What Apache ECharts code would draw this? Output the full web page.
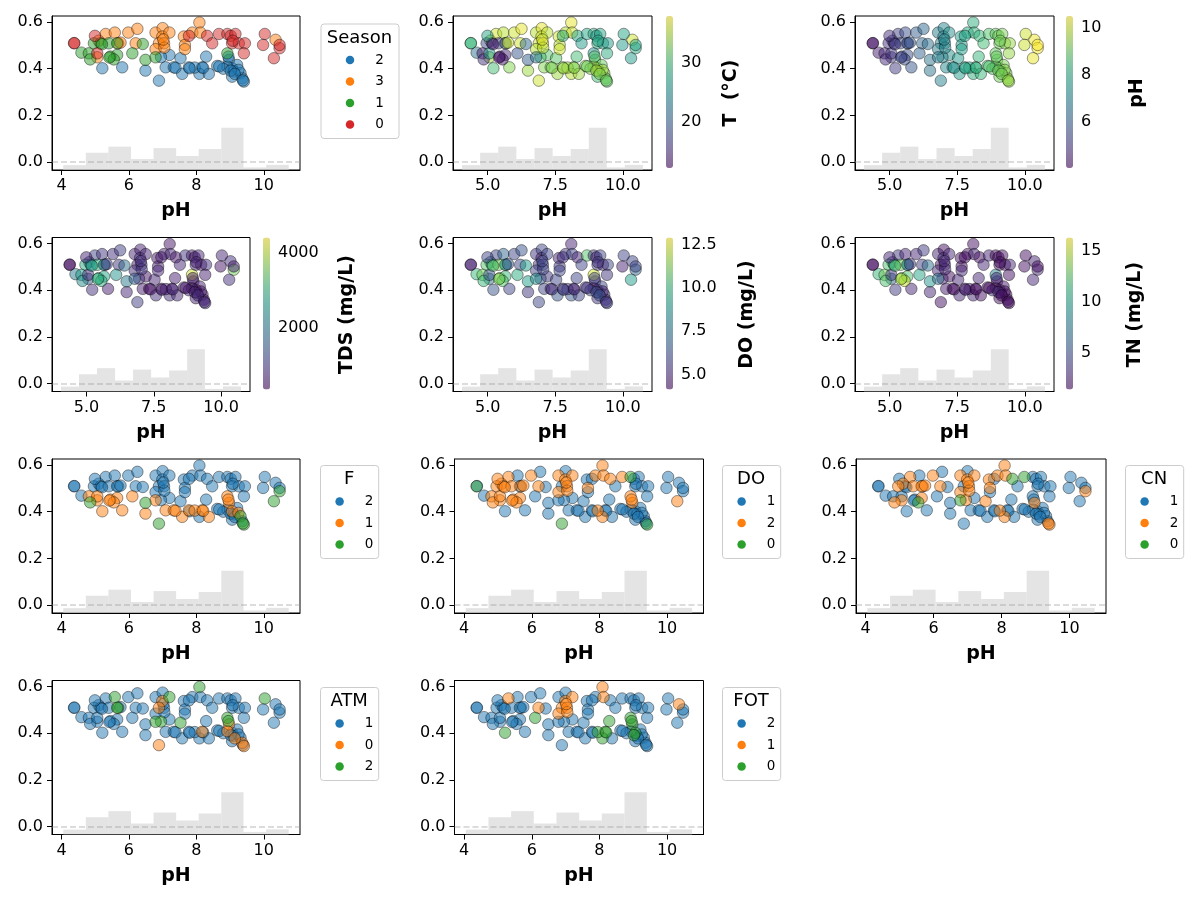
<!DOCTYPE html>
<html>
<head>
<meta charset="utf-8">
<script src="https://cdn.jsdelivr.net/npm/echarts@6/dist/echarts.min.js"></script>
<style>
  html, body { margin: 0; background: #fff; }
  #chart { width: 1200px; height: 900px; }
</style>
</head>
<body>
<div id="chart"></div>
<script>
// ---- data (one entry per sample) ----
const ph = [5.21,5.80,6.49,6.89,7.20,7.09,7.33,7.58,7.53,7.78,8.29,8.17,8.09,8.37,8.62,8.97,9.06,9.21,8.92,9.11,9.31,9.36,9.41,9.06,8.80,7.95,9.25,6.95,
  5.31,5.58,5.98,6.25,5.68,6.20,5.06,6.79,7.00,6.99,7.20,6.89,7.04,6.79,7.63,7.66,7.66,7.88,8.09,8.12,10.35,5.10,7.05,
  4.96,5.16,5.40,5.65,6.41,4.59,4.81,5.45,5.65,6.10,6.49,6.79,8.92,5.55,4.85,
  4.37,4.38,4.99,5.06,7.78,8.32,8.47,8.67,8.92,9.02,9.16,9.06,9.26,9.44,9.41,10.03,9.98,10.47,10.47,10.30,9.08,
  7.38,7.80,8.20,8.68,9.02,9.14,9.38,8.95,5.75,7.02,5.20,5.42];
const val = [0.402,0.406,0.392,0.349,0.459,0.406,0.406,0.378,0.445,0.406,0.452,0.406,0.378,0.378,0.412,0.438,0.402,0.416,0.409,0.388,0.381,0.359,0.345,0.366,0.400,0.405,0.395,0.450,
  0.549,0.555,0.555,0.571,0.509,0.509,0.449,0.555,0.574,0.538,0.555,0.509,0.509,0.484,0.538,0.502,0.484,0.555,0.598,0.555,0.524,0.520,0.490,
  0.509,0.509,0.509,0.509,0.506,0.469,0.466,0.452,0.459,0.466,0.438,0.449,0.466,0.440,0.440,
  0.509,0.510,0.541,0.466,0.541,0.541,0.509,0.549,0.549,0.541,0.549,0.509,0.509,0.509,0.466,0.549,0.502,0.488,0.502,0.445,0.520,
  0.404,0.402,0.404,0.410,0.392,0.378,0.350,0.452,0.512,0.525,0.505,0.448];
const season = [2,2,2,2,2,2,2,2,2,2,2,2,2,2,2,2,2,2,2,2,2,2,2,2,2,2,2,2,
  3,3,3,3,3,3,3,3,3,3,3,3,3,3,3,3,3,3,3,3,3,3,3,
  1,1,1,1,1,1,1,1,1,1,1,1,1,1,1,
  0,0,0,0,0,0,0,0,0,0,0,0,0,0,0,0,0,0,0,0,0,
  2,2,2,2,2,2,2,2,3,3,1,1];
const temp = [30,33,34,36,31,33,32,34,31,33,30,33,35,34,33,31,33,32,34,35,33,32,31,30,33,34,34,30,
  36,35,36,37,35,36,34,35,37,36,35,36,37,35,36,35,36,35,37,36,36,35,35,
  18,15,16,20,21,22,14,13,15,19,20,22,25,14,16,
  30,29,27,26,28,27,26,27,28,26,27,28,27,26,28,27,26,28,27,26,27,
  33,34,33,32,34,33,32,31,36,36,15,14];
const tds = [900,700,800,1100,600,700,500,900,800,600,700,600,900,800,700,600,500,700,600,800,700,600,900,700,800,700,600,900,
  1200,1000,900,1100,1300,1000,1500,800,700,900,800,700,1000,900,600,700,800,700,600,800,900,1100,1000,
  2800,2500,3000,2200,1800,2000,2600,3100,2700,2400,2000,1600,4100,2900,2300,
  600,500,800,900,700,600,800,1000,700,600,800,700,600,900,700,800,600,3500,700,900,800,
  600,700,800,600,700,900,800,700,1100,900,2600,2900];
const doMg = [6.5,6,5.5,6,5.5,6,5,6.5,6,5,6,5.5,6.5,6,5.5,5,5.5,6,5,6,5.5,5,6,5.5,6,5.5,5,6.5,
  6,7,6,6.5,7,6,7.5,5.5,6,5,6,5.5,6,6,5,5.5,6,5.5,5,6,6,7,6,
  10.5,10,11,9.5,9,10,11,11.5,10,9.5,9,8.5,12.3,10.5,10,
  5,5,6,6.5,5.5,5,6,10.5,5.5,5,6,5.5,5,6,5.5,6,5,7,6,9,5.5,
  5.5,6,5,5.5,6,6.5,5.5,6,6.5,6,10.5,11];
const tn = [4,3,3,2,2,2.5,2,3,3,2,3,2,3,2,2,2,2,2.5,2,3,2,2,2,2,3,2,2,3,
  4,3,3,4,5,4,6,3,2,3,3,2,3,3,2,2,3,2,2,3,3,4,3,
  12,10,13,9,7,11,13,14,12,10,9,7,8,15,12,
  2,2,3,4,2,2,3,3,2,2,2,2,2,3,2,2,2,3,2,3,2,
  2,3,2,2,3,2,2,3,4,3,12,14];
const fCls = [1,1,1,0,2,1,1,1,2,1,2,1,2,1,2,1,1,2,2,2,0,2,0,2,2,1,1,2,
  2,2,2,2,2,2,1,2,2,2,2,2,2,2,2,2,2,2,2,2,2,2,2,
  2,2,2,2,2,2,1,1,1,1,0,1,1,1,0,
  2,2,2,1,2,2,2,2,2,2,2,2,2,2,2,2,2,0,2,0,2,
  1,2,1,2,2,2,0,1,2,2,2,1];
const doCls = [1,1,1,0,1,1,1,1,1,1,1,1,2,1,1,2,1,1,1,1,1,1,0,1,1,2,1,1,
  2,1,2,1,2,2,2,2,1,2,2,1,2,2,1,2,1,2,2,2,1,2,2,
  2,2,2,1,1,1,2,2,2,1,1,1,2,2,2,
  0,1,2,2,1,2,1,2,0,1,1,1,1,1,1,1,1,1,1,2,1,
  1,1,1,1,1,1,1,2,2,2,2,2];
const cnCls = [1,1,1,1,1,1,1,1,2,1,1,1,2,1,1,2,1,1,1,1,1,1,2,1,1,2,1,2,
  2,1,2,1,2,2,2,2,1,2,2,1,2,2,2,2,1,2,2,2,1,2,2,
  2,1,2,2,1,1,1,1,2,1,1,0,1,0,2,
  1,1,1,1,1,0,1,0,1,1,1,1,1,1,1,1,1,2,1,1,1,
  1,1,1,1,1,1,2,1,2,2,1,1];
const atmCls = [1,1,1,0,1,1,1,1,2,1,1,0,1,1,1,0,1,1,0,1,1,0,0,1,1,1,1,2,
  1,2,1,1,2,1,1,1,1,0,2,0,1,1,1,1,1,1,2,1,1,1,1,
  1,1,1,2,1,1,1,1,1,1,1,2,2,1,1,
  1,1,1,1,1,1,1,1,1,1,1,1,1,1,1,2,1,1,1,1,1,
  1,1,1,1,1,0,1,2,1,1,1,1];
const fotCls = [0,2,2,2,2,2,2,2,2,2,0,0,0,2,2,0,0,2,2,2,2,2,2,2,2,0,2,2,
  1,2,2,2,2,1,2,2,2,1,1,1,1,1,2,2,2,2,1,1,1,2,1,
  2,2,2,2,2,2,2,2,2,0,2,2,0,2,2,
  2,2,2,2,2,2,2,2,2,2,2,2,2,2,2,2,2,2,2,2,2,
  2,2,0,2,0,2,2,0,2,1,2,2];

// pH histogram drawn under every panel
const histEdges = [4.05,4.72,5.39,6.06,6.73,7.40,8.07,8.74,9.40,10.07,10.74];
const histTops = [-0.013,0.040,0.066,0.013,0.060,0.026,0.056,0.147,-0.023,-0.012];

// ---- styling ----
const FONT = 'DejaVu Sans';
const X_MIN = 3.717, X_MAX = 11.075, Y_MIN = -0.034, Y_MAX = 0.626;
const H = 154;
const tab10 = ['#1f77b4', '#ff7f0e', '#2ca02c', '#d62728'];
const viridis = ['#440154','#482878','#3e4989','#31688e','#26828e','#1f9e89','#35b779','#6ece58','#b5de2b','#fde725'];
const viridisFaded = viridis.map(c => {
  const n = parseInt(c.slice(1), 16);
  return 'rgba(' + (n >> 16) + ',' + ((n >> 8) & 255) + ',' + (n & 255) + ',0.5)';
});

const panels = [
  {left: 52, top: 16, w: 248, xt: [4, 6, 8, 10], cat: season, title: 'Season', order: [2, 3, 1, 0], box: [320.5, 23.5, 78]},
  {left: 453, top: 16, w: 199, xt: [5, 7.5, 10], num: temp, range: [12.2, 37.9], ct: [20, 30], cbX: 666, label: 'T  (°C)', labelX: 731},
  {left: 855, top: 16, w: 199, xt: [5, 7.5, 10], num: ph, range: [4.05, 10.5], ct: [6, 8, 10], cbX: 1066, label: 'pH', labelX: 1137},
  {left: 52, top: 237.5, w: 198, xt: [5, 7.5, 10], num: tds, range: [357, 4410], ct: [2000, 4000], cbX: 263, label: 'TDS (mg/L)', labelX: 347},
  {left: 453, top: 237.5, w: 199, xt: [5, 7.5, 10], num: doMg, range: [4.15, 12.9], ct: [5, 7.5, 10, 12.5], cdec: 1, cbX: 666, label: 'DO (mg/L)', labelX: 747},
  {left: 855, top: 237.5, w: 199, xt: [5, 7.5, 10], num: tn, range: [1.36, 16.3], ct: [5, 10, 15], cbX: 1066, label: 'TN (mg/L)', labelX: 1135},
  {left: 52, top: 459, w: 248, xt: [4, 6, 8, 10], cat: fCls, title: 'F', order: [2, 1, 0], box: [320, 465, 58.2]},
  {left: 454.5, top: 459, w: 249, xt: [4, 6, 8, 10], cat: doCls, title: 'DO', order: [1, 2, 0], box: [722, 465, 58.2]},
  {left: 856, top: 459, w: 250, xt: [4, 6, 8, 10], cat: cnCls, title: 'CN', order: [1, 2, 0], box: [1125, 465, 58.2]},
  {left: 52, top: 680.5, w: 248, xt: [4, 6, 8, 10], cat: atmCls, title: 'ATM', order: [1, 0, 2], box: [320, 687, 58.2]},
  {left: 454.5, top: 680.5, w: 249, xt: [4, 6, 8, 10], cat: fotCls, title: 'FOT', order: [2, 1, 0], box: [722, 687, 58.2]}
];

const chart = echarts.init(document.getElementById('chart'));
const grids = [], xAxes = [], yAxes = [], series = [], visualMaps = [], legends = [], graphics = [];
const histData = histTops.map((t, i) => [histEdges[i], histEdges[i + 1], t]);
const tickStyle = {show: true, inside: false, length: 5, lineStyle: {color: '#000', width: 1}};

panels.forEach(p => {
  // each grid owns exactly one x and one y axis, so they share the index
  const k = grids.length;
  grids.push({left: p.left, top: p.top, width: p.w, height: H, show: true, borderColor: '#000', borderWidth: 1});
  const dec = p.xt.some(v => v % 1 !== 0) ? 1 : 0;
  xAxes.push({
    type: 'value', gridIndex: k, min: X_MIN, max: X_MAX,
    axisLine: {show: true, onZero: false, lineStyle: {color: '#000'}},
    splitLine: {show: false},
    axisTick: Object.assign({customValues: p.xt}, tickStyle),
    axisLabel: {customValues: p.xt, formatter: v => v.toFixed(dec), fontFamily: FONT, fontSize: 16, color: '#000', margin: 8},
    name: 'pH', nameLocation: 'middle', nameGap: 32,
    nameTextStyle: {fontFamily: FONT, fontSize: 19, fontWeight: 'bold', color: '#000'}
  });
  yAxes.push({
    type: 'value', gridIndex: k, min: Y_MIN, max: Y_MAX,
    axisLine: {show: true, onZero: false, lineStyle: {color: '#000'}},
    splitLine: {show: false},
    axisTick: Object.assign({customValues: [0, 0.2, 0.4, 0.6]}, tickStyle),
    axisLabel: {customValues: [0, 0.2, 0.4, 0.6], formatter: v => v.toFixed(1), fontFamily: FONT, fontSize: 16, color: '#000', margin: 9}
  });

  // grey pH histogram
  series.push({
    type: 'custom', xAxisIndex: k, yAxisIndex: k, z: 1, silent: true,
    encode: {x: [0, 1], y: 2},
    data: histData,
    renderItem: (params, api) => {
      const a = api.coord([api.value(0), api.value(2)]);
      const b = api.coord([api.value(1), Y_MIN]);
      return {type: 'rect', shape: {x: a[0], y: a[1], width: b[0] - a[0], height: b[1] - a[1]},
        style: {fill: 'rgba(211,211,211,0.62)'}};
    }
  });

  const zeroLine = {
    silent: true, symbol: 'none', label: {show: false}, animation: false,
    lineStyle: {color: 'rgba(150,150,150,0.45)', type: [6, 3], width: 1.5},
    data: [{yAxis: 0}]
  };
  const pointStyle = {opacity: 0.5, borderColor: '#000', borderWidth: 0.8};

  if (p.cat) {
    const names = [];
    p.order.forEach((c, j) => {
      const name = p.title + '|' + c;
      names.push(name);
      const pts = [];
      ph.forEach((x, i) => { if (p.cat[i] === c) pts.push([x, val[i]]); });
      series.push({
        type: 'scatter', name: name, xAxisIndex: k, yAxisIndex: k, z: 3,
        symbolSize: 11.5, data: pts,
        itemStyle: Object.assign({color: tab10[j]}, pointStyle),
        markLine: j === 0 ? zeroLine : undefined
      });
    });
    // legend box + title
    const [bx, by, bw] = p.box;
    const n = p.order.length;
    const row1 = by + 36.5;
    const bh = 36.5 + (n - 1) * 21.5 + 13.5;
    graphics.push({type: 'rect', left: bx, top: by, z: 10,
      shape: {width: bw, height: bh, r: 3},
      style: {fill: 'rgba(255,255,255,0.8)', stroke: '#cccccc', lineWidth: 1}});
    graphics.push({type: 'text', x: bx + bw / 2, y: by + 14.5, z: 11,
      style: {text: p.title, fontFamily: FONT, fontSize: 18, fill: '#000', textAlign: 'center', textVerticalAlign: 'middle'}});
    const markerX = bx + 5.6 + (bw - 11.2 - 47) / 2 + 14;
    legends.push({
      data: names, orient: 'vertical', left: markerX - 4.25, top: row1 - 7, padding: 0,
      itemWidth: 8.5, itemHeight: 8.5, itemGap: 7.5, icon: 'circle', selectedMode: false, z: 12,
      itemStyle: {opacity: 1, borderWidth: 0},
      textStyle: {fontFamily: FONT, fontSize: 13.5, color: '#000', lineHeight: 14, padding: [0, 0, 0, 16]},
      formatter: nm => nm.split('|')[1]
    });
  } else {
    const sIdx = series.length;
    series.push({
      type: 'scatter', xAxisIndex: k, yAxisIndex: k, z: 3,
      symbolSize: 11.5, data: ph.map((x, i) => [x, val[i], p.num[i]]),
      itemStyle: pointStyle, markLine: zeroLine
    });
    visualMaps.push({
      type: 'continuous', seriesIndex: sIdx, dimension: 2,
      min: p.range[0], max: p.range[1], calculable: false, hoverLink: false,
      left: p.cbX, top: p.top, itemWidth: 7, itemHeight: 152, padding: 0, text: null,
      inRange: {color: viridis},
      controller: {inRange: {color: viridisFaded}}
    });
    // colorbar tick axis in its own small grid
    const g = grids.length;
    grids.push({left: p.cbX, top: p.top, width: 7, height: 152, show: false});
    xAxes.push({type: 'value', gridIndex: g, show: false, min: 0, max: 1});
    const cdec = p.cdec || 0;
    yAxes.push({
      type: 'value', gridIndex: g, position: 'right', min: p.range[0], max: p.range[1],
      axisLine: {show: false}, splitLine: {show: false},
      axisTick: Object.assign({customValues: p.ct}, tickStyle),
      axisLabel: {customValues: p.ct, formatter: v => v.toFixed(cdec), fontFamily: FONT, fontSize: 16, color: '#000', margin: 8}
    });
    graphics.push({type: 'text', x: p.labelX, y: p.top + 77, rotation: Math.PI / 2, z: 11,
      style: {text: p.label, fontFamily: FONT, fontSize: 19, fontWeight: 'bold', fill: '#000',
        textAlign: 'center', textVerticalAlign: 'middle'}});
  }
});

chart.setOption({
  animation: false,
  textStyle: {fontFamily: FONT},
  grid: grids, xAxis: xAxes, yAxis: yAxes,
  series: series, visualMap: visualMaps, legend: legends, graphic: graphics
});
</script>
</body>
</html>
